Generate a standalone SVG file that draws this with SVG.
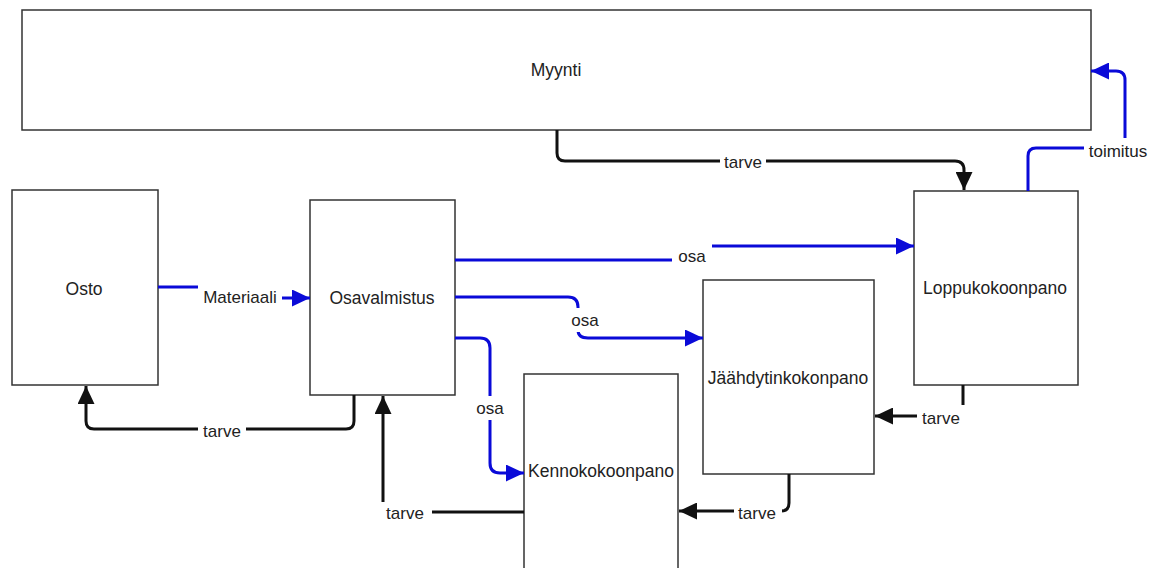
<svg xmlns="http://www.w3.org/2000/svg" width="1163" height="568" viewBox="0 0 1163 568">
  <style>
    .box { fill: #ffffff; stroke: #333333; stroke-width: 1.5; }
    .name { font-family: "Liberation Sans", Arial, sans-serif; font-size: 17.5px; fill: #222222; text-anchor: middle; dominant-baseline: central; }
    .lbl { font-family: "Liberation Sans", Arial, sans-serif; font-size: 17px; fill: #222222; text-anchor: middle; dominant-baseline: central; }
    .lblbg { fill: #ffffff; }
    .need { fill: none; stroke: #111111; stroke-width: 3; marker-end: url(#headBlack); }
    .flow { fill: none; stroke: #0a0ad8; stroke-width: 3; marker-end: url(#headBlue); }
  </style>
  <defs>
    <marker id="headBlack" viewBox="0 0 10 10" refX="10" refY="5" markerWidth="18" markerHeight="17" markerUnits="userSpaceOnUse" orient="auto" preserveAspectRatio="none">
      <path d="M0,0 L10,5 L0,10 z" fill="#111111"/>
    </marker>
    <marker id="headBlue" viewBox="0 0 10 10" refX="10" refY="5" markerWidth="18" markerHeight="17" markerUnits="userSpaceOnUse" orient="auto" preserveAspectRatio="none">
      <path d="M0,0 L10,5 L0,10 z" fill="#0a0ad8"/>
    </marker>
  </defs>
  <rect width="1163" height="568" fill="#ffffff"/>

  <g id="myynti">
    <rect class="box" x="22" y="10" width="1069" height="120"/>
    <text class="name" x="556" y="70">Myynti</text>
  </g>
  <g id="osto">
    <rect class="box" x="12" y="190" width="146" height="195"/>
    <text class="name" x="84" y="289">Osto</text>
  </g>
  <g id="osavalmistus">
    <rect class="box" x="310" y="200" width="145" height="195"/>
    <text class="name" x="382" y="298">Osavalmistus</text>
  </g>
  <g id="loppukokoonpano">
    <rect class="box" x="914" y="191" width="164" height="194"/>
    <text class="name" x="995" y="288">Loppukokoonpano</text>
  </g>
  <g id="jaahdytinkokonpano">
    <rect class="box" x="703" y="280" width="171" height="194"/>
    <text class="name" x="788" y="378">Jäähdytinkokonpano</text>
  </g>
  <g id="kennokokoonpano">
    <rect class="box" x="524" y="374" width="154" height="220"/>
    <text class="name" x="601" y="471">Kennokokoonpano</text>
  </g>

  <g id="connectors">
    <path class="need" d="M557,130 V153 Q557,161 565,161 H955 Q964,161 964,170 V190"/>
    <path class="flow" d="M1028,191 V156 Q1028,148 1036,148 H1125 V80 Q1125,71 1116,71 H1091"/>
    <path class="flow" d="M158,287 H245 V298 H310"/>
    <path class="flow" d="M455,260 H692 V246 H914"/>
    <path class="flow" d="M455,297 H568 Q578,297 578,307 V330 Q578,338 588,338 H703"/>
    <path class="flow" d="M455,338 H480 Q490,338 490,348 V463 Q490,473 500,473 H524"/>
    <path class="need" d="M354,395 V421 Q354,429 346,429 H94 Q86,429 86,421 V386"/>
    <path class="need" d="M524,512 H383 V396"/>
    <path class="need" d="M789,474 V503 Q789,511 781,511 H679"/>
    <path class="need" d="M963,385 V416 H875"/>

    <rect class="lblbg" x="720" y="151" width="46" height="22"/>
    <text class="lbl" x="743" y="162">tarve</text>
    <rect class="lblbg" x="1084" y="138" width="68" height="24"/>
    <text class="lbl" x="1118" y="151">toimitus</text>
    <rect class="lblbg" x="198" y="284" width="84" height="26"/>
    <text class="lbl" x="240" y="297">Materiaali</text>
    <rect class="lblbg" x="672" y="244" width="40" height="24"/>
    <text class="lbl" x="692" y="256">osa</text>
    <rect class="lblbg" x="566" y="308" width="38" height="24"/>
    <text class="lbl" x="585" y="320">osa</text>
    <rect class="lblbg" x="470" y="396" width="40" height="24"/>
    <text class="lbl" x="490" y="408">osa</text>
    <rect class="lblbg" x="198" y="420" width="48" height="22"/>
    <text class="lbl" x="222" y="431">tarve</text>
    <rect class="lblbg" x="378" y="502" width="54" height="22"/>
    <text class="lbl" x="405" y="513">tarve</text>
    <rect class="lblbg" x="734" y="502" width="48" height="22"/>
    <text class="lbl" x="757" y="513">tarve</text>
    <rect class="lblbg" x="917" y="405" width="50" height="24"/>
    <text class="lbl" x="941" y="418">tarve</text>
  </g>
</svg>
